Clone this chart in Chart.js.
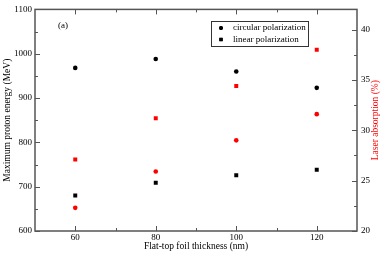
<!DOCTYPE html>
<html>
<head>
<meta charset="utf-8">
<script src="https://cdn.jsdelivr.net/npm/chart.js@4/dist/chart.umd.min.js"></script>
<style>
  html, body { margin: 0; padding: 0; background: #fff; }
</style>
</head>
<body>
<canvas id="chart" width="382" height="254"></canvas>
<script>
// values
const thickness = [60, 80, 100, 120];
const circularEnergy = [968, 988, 960, 923];
const linearEnergy = [680, 709, 726, 738];
const circularAbsorption = [22.3, 25.9, 29.0, 31.6];
const linearAbsorption = [27.1, 31.2, 34.4, 38.0];

const xTicks = [60, 80, 100, 120];
const xMinorTicks = [70, 90, 110];
const yTicks = [600, 700, 800, 900, 1000, 1100];
const yMinorTicks = [650, 750, 850, 950, 1050];
const y2Ticks = [20, 25, 30, 35, 40];
const y2MinorTicks = [22.5, 27.5, 32.5, 37.5];

const serif = 'Liberation Serif';
const frameColor = '#555';
const rightTitle = 'Laser absorption (%)';

const toPoints = (ys) => thickness.map((x, i) => ({ x: x, y: ys[i] }));

// ticks pointing inwards + box frame
const frameTicks = {
  id: 'frameTicks',
  afterDraw(chart) {
    const ctx = chart.ctx;
    const a = chart.chartArea;
    const sx = chart.scales.x, sy = chart.scales.y, sy2 = chart.scales.y2;
    ctx.save();
    ctx.strokeStyle = frameColor;
    ctx.lineWidth = 1;
    const line = (x1, y1, x2, y2) => {
      ctx.beginPath(); ctx.moveTo(x1, y1); ctx.lineTo(x2, y2); ctx.stroke();
    };
    xTicks.concat(xMinorTicks).forEach((v) => {
      const len = xTicks.includes(v) ? 5 : 3;
      const px = Math.round(sx.getPixelForValue(v)) + 0.5;
      line(px, a.bottom, px, a.bottom - len);
      line(px, a.top, px, a.top + len);
    });
    yTicks.concat(yMinorTicks).forEach((v) => {
      const len = yTicks.includes(v) ? 5 : 3;
      const py = Math.round(sy.getPixelForValue(v)) + 0.5;
      line(a.left, py, a.left + len, py);
    });
    y2Ticks.concat(y2MinorTicks).forEach((v) => {
      const len = y2Ticks.includes(v) ? 5 : 3;
      const py = Math.round(sy2.getPixelForValue(v)) + 0.5;
      line(a.right, py, a.right - len, py);
    });
    ctx.lineWidth = 1.5;
    ctx.strokeRect(a.left, a.top, a.right - a.left, a.bottom - a.top);

    // right axis title, reading bottom to top like the left one
    ctx.translate(375.5, (a.top + a.bottom) / 2);
    ctx.rotate(-Math.PI / 2);
    ctx.font = '9.5px "' + serif + '"';
    ctx.fillStyle = '#f00';
    ctx.textAlign = 'center';
    ctx.textBaseline = 'middle';
    ctx.fillText(rightTitle, 0, 0);
    ctx.restore();
  }
};

// boxed legend and panel label inside the plot
const boxLegend = {
  id: 'boxLegend',
  afterDraw(chart) {
    const ctx = chart.ctx;
    const ds = chart.data.datasets;
    ctx.save();
    ctx.strokeStyle = '#333';
    ctx.lineWidth = 1;
    ctx.strokeRect(211.5, 21.5, 97, 25);
    ctx.font = '9px "' + serif + '"';
    ctx.fillStyle = '#000';
    ctx.textBaseline = 'middle';
    [0, 1].forEach((i, row) => {
      const y = 28 + row * 11.5;
      ctx.fillStyle = '#000';
      Chart.helpers.drawPoint(ctx, {
        pointStyle: ds[i].pointStyle,
        radius: ds[i].pointRadius * 0.85,
        borderWidth: 0
      }, 221, y);
      ctx.fill();
      ctx.fillText(ds[i].label, 233, y);
    });
    ctx.fillText('(a)', 58, 26);
    ctx.restore();
  }
};

const plainNumber = (v) => String(v);

new Chart(document.getElementById('chart'), {
  type: 'scatter',
  data: {
    datasets: [
      {
        label: 'circular polarization',
        data: toPoints(circularEnergy),
        yAxisID: 'y',
        pointStyle: 'circle',
        pointRadius: 2.3,
        backgroundColor: '#000',
        borderWidth: 0
      },
      {
        label: 'linear polarization',
        data: toPoints(linearEnergy),
        yAxisID: 'y',
        pointStyle: 'rect',
        pointRadius: 2.8,
        backgroundColor: '#000',
        borderWidth: 0
      },
      {
        label: 'circular absorption',
        data: toPoints(circularAbsorption),
        yAxisID: 'y2',
        pointStyle: 'circle',
        pointRadius: 2.3,
        backgroundColor: '#f00',
        borderWidth: 0
      },
      {
        label: 'linear absorption',
        data: toPoints(linearAbsorption),
        yAxisID: 'y2',
        pointStyle: 'rect',
        pointRadius: 2.8,
        backgroundColor: '#f00',
        borderWidth: 0
      }
    ]
  },
  options: {
    responsive: false,
    animation: false,
    layout: { padding: { top: 5, left: 0, right: 0, bottom: 0 } },
    plugins: {
      legend: { display: false },
      tooltip: { enabled: false }
    },
    scales: {
      x: {
        type: 'linear',
        min: 50,
        max: 130,
        afterBuildTicks: (s) => { s.ticks = xTicks.map((v) => ({ value: v })); },
        afterFit: (s) => { s.height = 23; },
        grid: { display: false, drawTicks: false },
        border: { display: false },
        ticks: { padding: 1, color: '#000', font: { family: serif, size: 9 }, callback: plainNumber },
        title: {
          display: true,
          text: 'Flat-top foil thickness (nm)',
          color: '#000',
          padding: { top: 0, bottom: 2 },
          font: { family: serif, size: 9.5 }
        }
      },
      y: {
        position: 'left',
        min: 600,
        max: 1100,
        afterBuildTicks: (s) => { s.ticks = yTicks.map((v) => ({ value: v })); },
        afterFit: (s) => { s.width = 35; },
        grid: { display: false, drawTicks: false },
        border: { display: false },
        ticks: { padding: 3, color: '#000', font: { family: serif, size: 9 }, callback: plainNumber },
        title: {
          display: true,
          text: 'Maximum proton energy (MeV)',
          color: '#000',
          padding: { top: 2, bottom: 0 },
          font: { family: serif, size: 9.5 }
        }
      },
      y2: {
        position: 'right',
        min: 20,
        max: 42,
        afterBuildTicks: (s) => { s.ticks = y2Ticks.map((v) => ({ value: v })); },
        afterFit: (s) => { s.width = 25; },
        grid: { display: false, drawTicks: false },
        border: { display: false },
        ticks: { padding: 4, color: '#000', font: { family: serif, size: 9 }, callback: plainNumber },
        title: { display: false }
      }
    }
  },
  plugins: [frameTicks, boxLegend]
});
</script>
</body>
</html>
